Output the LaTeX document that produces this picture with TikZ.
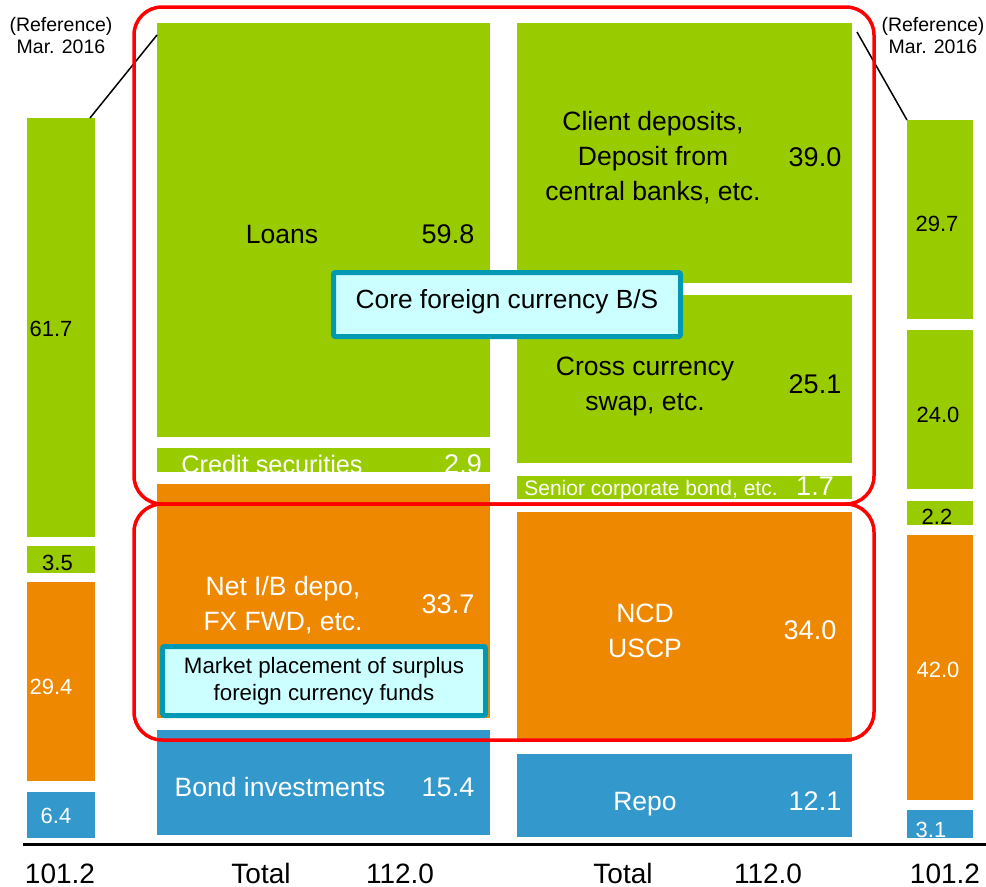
\documentclass[tikz,border=0pt]{standalone}
\usepackage{fontspec}
\setmainfont{Liberation Sans}
\usetikzlibrary{fit,calc}
\definecolor{bsgreen}{HTML}{99CC00}
\definecolor{bsorange}{HTML}{EE8800}
\definecolor{bsblue}{HTML}{3399CC}
\definecolor{bsteal}{HTML}{0099B4}
\definecolor{bscyan}{HTML}{CCFFFF}
\definecolor{bsred}{HTML}{FF0000}
% a filled bar spanning two corners
\newcommand\barbox[6]{\node[barnode,fill=#2,fit={(#3,#4) (#5,#6)}] (#1) {};}
\begin{document}
\begin{tikzpicture}[x=1bp,y=-1bp,
  barnode/.style={draw=none,inner sep=0pt,outer sep=0pt},
  lbl/.style={text=white,inner sep=0pt,anchor=base,font=\fontsize{26.5bp}{35bp}\selectfont},
  lbllines/.style={lbl,align=center},
  val/.style={lbl,font=\fontsize{27bp}{32bp}\selectfont},
  small/.style={text=white,inner sep=0pt,anchor=base,font=\fontsize{22bp}{26bp}\selectfont},
  refnote/.style={text=black,inner sep=0pt,anchor=base,align=center,font=\fontsize{19.5bp}{22bp}\selectfont},
  total/.style={text=black,inner sep=0pt,anchor=base,font=\fontsize{28bp}{32bp}\selectfont},
  frame/.style={draw=bsred,line width=3.5bp,rounded corners=28bp,inner sep=0pt},
  tagbox/.style={draw=bsteal,fill=bscyan,line width=5bp,rounded corners=2bp,inner sep=0pt,text=black,align=center},
  link/.style={draw=black,line width=1.5bp}]
\useasboundingbox (0,0) rectangle (986,887);

% reference column, left
\barbox{refLa}{bsgreen}{27}{118}{95}{537}
\barbox{refLb}{bsgreen}{27}{546}{95}{573}
\barbox{refLc}{bsorange}{27}{582}{95}{781}
\barbox{refLd}{bsblue}{27}{792}{95}{838}
% assets
\barbox{loans}{bsgreen}{157}{23}{490}{437}
\barbox{credit}{bsgreen}{157}{448}{490}{472}
\barbox{netib}{bsorange}{157}{484}{490}{718}
\barbox{bond}{bsblue}{157}{730}{490}{835}
% liabilities
\barbox{client}{bsgreen}{517}{23}{852}{283}
\barbox{ccs}{bsgreen}{517}{295}{852}{463}
\barbox{senior}{bsgreen}{517}{476}{852}{499}
\barbox{ncd}{bsorange}{517}{512}{852}{742}
\barbox{repo}{bsblue}{517}{754}{852}{837}
% reference column, right
\barbox{refRa}{bsgreen}{907}{120}{973}{319}
\barbox{refRb}{bsgreen}{907}{330}{973}{489}
\barbox{refRc}{bsgreen}{907}{501}{973}{525}
\barbox{refRd}{bsorange}{907}{535}{973}{800}
\barbox{refRe}{bsblue}{907}{810}{973}{838}

% links from the reference columns
\draw[link] ($(refLa.north east)+(-5,0)$) -- ($(loans.north west)+(0,12)$);
\draw[link] ($(client.north east)+(5,9)$) -- (refRa.north west);

% labels, left reference column
\node[refnote] (noteL) at (61,53) {(Reference)\\Mar. 2016};
\node[small,text=black] (vLa) at (51,336) {61.7};
\node[small,text=black] (vLb) at (57.5,570) {3.5};
\node[small] (vLc) at (51,694) {29.4};
\node[small] (vLd) at (56,823) {6.4};

% labels, assets
\node[lbl,text=black] (tLoans) at (282,243) {Loans};
\node[val,text=black] (vLoans) at (448,243) {59.8};
\node[lbl,font=\fontsize{25.3bp}{30bp}\selectfont] (tCredit) at (272,473) {Credit securities};
\node[val] (vCredit) at (463,473) {2.9};
\node[lbllines] (tNetib) at (283,630) {Net I/B depo,\\FX FWD, etc.};
\node[val] (vNetib) at (448,613) {33.7};
\node[lbl] (tBond) at (280,796) {Bond investments};
\node[val] (vBond) at (448,796) {15.4};

% labels, liabilities
\node[lbllines,text=black] (tClient) at (653,200) {Client deposits,\\Deposit from\\central banks, etc.};
\node[val,text=black] (vClient) at (815,166) {39.0};
\node[lbllines,text=black] (tCcs) at (645,410) {Cross currency\\swap, etc.};
\node[val,text=black] (vCcs) at (815,393) {25.1};
\node[lbl,font=\fontsize{21bp}{25bp}\selectfont] (tSenior) at (651,495) {Senior corporate bond, etc.};
\node[val] (vSenior) at (815,495) {1.7};
\node[lbllines] (tNcd) at (645,657) {NCD\\USCP};
\node[val] (vNcd) at (810,639) {34.0};
\node[lbl] (tRepo) at (645,810) {Repo};
\node[val] (vRepo) at (815,810) {12.1};

% labels, right reference column
\node[refnote] (noteR) at (933,53) {(Reference)\\Mar. 2016};
\node[small,text=black] (vRa) at (937,231) {29.7};
\node[small,text=black] (vRb) at (938,422) {24.0};
\node[small,text=black] (vRc) at (937,524) {2.2};
\node[small] (vRd) at (938,677) {42.0};
\node[small] (vRe) at (931,837) {3.1};

% frames round the two parts of the balance sheet
\node[frame,fit={(134,7) (874,504)}] (coreframe) {};
\node[frame,fit={(134,504) (874,740)}] (mktframe) {};

% tags
\node[tagbox,minimum width=347bp,minimum height=64bp,
  font=\fontsize{26.3bp}{32bp}\selectfont,text height=0.72em,text depth=0pt]
  (coretag) at (507,304.5) {Core foreign currency B/S};
\node[tagbox,minimum width=323bp,minimum height=69bp,
  font=\fontsize{22.3bp}{27.5bp}\selectfont]
  (mkttag) at (324,681) {Market placement of surplus\\foreign currency funds};

% axis and totals
\coordinate (axisL) at (23,844);
\coordinate (axisR) at (986,844);
\draw[line width=3bp] (axisL) -- (axisR);
\node[total] (sumL) at (60,883) {101.2};
\node[total] (totA) at (261,883) {Total};
\node[total] (sumA) at (400,883) {112.0};
\node[total] (totB) at (623,883) {Total};
\node[total] (sumB) at (768,883) {112.0};
\node[total] (sumR) at (945,883) {101.2};
\end{tikzpicture}
\end{document}
